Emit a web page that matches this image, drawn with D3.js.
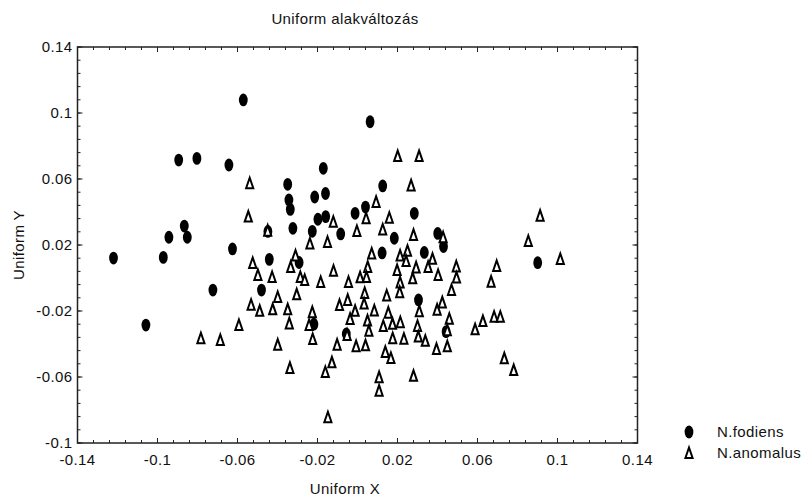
<!DOCTYPE html>
<html>
<head>
<meta charset="utf-8">
<script src="https://cdn.jsdelivr.net/npm/d3@7"></script>
<style>
	body { margin: 0; background: white; }
	text { font-family: Arial, "Liberation Sans", sans-serif; fill: #111; letter-spacing: 0.4px; }
</style>
</head>
<body>
<div id="plot"></div>
<script>
// N.fodiens (tele ellipszisek)
var fodiensX = [-0.122, -0.1058, -0.0971, -0.0943, -0.0851, -0.0866, -0.0894, -0.0803, -0.0643, -0.0571,
	-0.0625, -0.0723, -0.048, -0.0441, -0.0448, -0.0349, -0.0343, -0.0336, -0.0323, -0.0292,
	-0.0218, -0.0171, -0.0214, -0.016, -0.0198, -0.0159, -0.0226, -0.0084, -0.0056, -0.0012,
	0.004, 0.0063, 0.0126, 0.0284, 0.0184, 0.0123, 0.0334, 0.0401, 0.043, 0.0901,
	0.0305, 0.0443];
var fodiensY = [0.0121, -0.0285, 0.0125, 0.0247, 0.0247, 0.0315, 0.0715, 0.0725, 0.0685, 0.1079,
	0.0176, -0.0073, -0.0073, 0.0113, 0.0282, 0.0568, 0.0473, 0.0416, 0.0301, 0.0094,
	-0.028, 0.0665, 0.0491, 0.0512, 0.0356, 0.0372, 0.0283, 0.0267, -0.0339, 0.0392,
	0.043, 0.0947, 0.0558, 0.0392, 0.0241, 0.0152, 0.0155, 0.027, 0.0191, 0.0093,
	-0.0133, -0.0325];

// N.anomalus (üres háromszögek)
var anomalusX = [-0.0539, -0.0546, -0.0449, -0.0238, -0.015, -0.0121, -0.0003, 0.0043, 0.0201, 0.0308,
	0.0268, 0.0093, 0.0159, 0.0126, 0.028, 0.0428, 0.0913, 0.0854, 0.0071, 0.0213,
	0.025, 0.0375, 0.0051, 0.0198, 0.0243, 0.0293, 0.0353, 0.0403, 0.0494, 0.0495,
	0.0696, 0.1014, 0.0013, 0.0045, 0.0276, 0.0213, 0.0668, 0.047, 0.0036, 0.0146,
	0.0211, 0.0033, 0.0084, 0.0154, 0.0309, 0.0398, 0.0424, 0.005, 0.0129, 0.0175,
	0.0214, 0.03, 0.0459, 0.0449, 0.0057, 0.0176, 0.0232, 0.0304, 0.0339, 0.0395,
	0.0449, 0.004, 0.0139, 0.0167, 0.0588, 0.0627, 0.0683, 0.0714, 0.0734, 0.0781,
	0.0108, 0.0108, 0.028, -0.031, -0.0334, -0.0524, -0.0498, -0.0427, -0.0286, -0.0264,
	-0.0184, -0.012, -0.0045, -0.0399, -0.0304, -0.0532, -0.0489, -0.0424, -0.0349, -0.0226,
	-0.009, -0.0049, -0.0012, -0.0037, -0.0593, -0.0341, -0.0242, -0.0224, -0.0783, -0.0686,
	-0.0399, -0.0102, -0.0052, -0.0007, -0.0128, -0.0161, -0.0338, -0.0148];
var anomalusY = [0.0574, 0.0372, 0.0287, 0.0209, 0.0218, 0.0341, 0.0285, 0.0362, 0.0739, 0.0739,
	0.0561, 0.0461, 0.0365, 0.0294, 0.0261, 0.0247, 0.0378, 0.0224, 0.0148, 0.0136,
	0.0165, 0.0116, 0.0067, 0.0048, 0.0103, 0.0064, 0.0067, 0.0018, 0.007, 0.0003,
	0.0073, 0.0115, 0.0004, 0.0006, -0.0002, -0.0027, -0.0022, -0.0073, -0.0091, -0.0106,
	-0.0086, -0.0155, -0.0197, -0.021, -0.0201, -0.0192, -0.0148, -0.0258, -0.0291, -0.0278,
	-0.0268, -0.0291, -0.0247, -0.0317, -0.032, -0.0365, -0.0368, -0.0355, -0.0381, -0.043,
	-0.0414, -0.0408, -0.0448, -0.0485, -0.0311, -0.0261, -0.0235, -0.0235, -0.0487, -0.0558,
	-0.0601, -0.0683, -0.0593, 0.0136, 0.0067, 0.0091, 0.0018, 0.0006, 0.0006, -0.0012,
	-0.0024, 0.0044, -0.0024, -0.0115, -0.0099, -0.0162, -0.0199, -0.019, -0.019, -0.0207,
	-0.0164, -0.0133, -0.0199, -0.0248, -0.0285, -0.0275, -0.0285, -0.037, -0.0365, -0.0376,
	-0.0404, -0.0404, -0.0345, -0.0413, -0.0511, -0.057, -0.0545, -0.0844];

var xTicks = ['-0.14', '-0.1', '-0.06', '-0.02', '0.02', '0.06', '0.1', '0.14'];
var yTicks = ['-0.1', '-0.06', '-0.02', '0.02', '0.06', '0.1', '0.14'];
var sorozatok = ['N.fodiens', 'N.anomalus'];

var Amplada = 812, Alçada = 497;
var marge = {dalt: 47, dreta: 174.5, baix: 54, esquerra: 77.5};
var betu = 15;

var svg = d3.select('#plot').append('svg')
	.attr('width', Amplada)
	.attr('height', Alçada);

var x = d3.scaleLinear()
	.domain([+xTicks[0], +xTicks[xTicks.length-1]])
	.range([marge.esquerra, Amplada - marge.dreta]);
var y = d3.scaleLinear()
	.domain([+yTicks[0], +yTicks[yTicks.length-1]])
	.range([Alçada - marge.baix, marge.dalt]);

// apró osztások: 0.008 lépés
function menor(esc) {
	var d = esc.domain();
	var n = Math.round((d[1] - d[0]) / 0.008);
	return d3.range(n + 1).map(i => d[0] + i * 0.008);
}

var tengely = svg.append('g');

// keret
tengely.append('rect')
	.attr('x', x.range()[0])
	.attr('y', y.range()[1])
	.attr('width', x.range()[1] - x.range()[0])
	.attr('height', y.range()[0] - y.range()[1])
	.attr('fill', 'none')
	.attr('stroke', '#222')
	.attr('stroke-width', 1.5);

var bal = x.range()[0], jobb = x.range()[1], fent = y.range()[1], lent = y.range()[0];

// x osztások (lent és fent, befelé)
[[lent, -1], [fent, 1]].forEach(function(p) {
	tengely.append('g').selectAll('line.mx')
		.data(menor(x))
		.enter().append('line')
			.attr('x1', d => x(d)).attr('x2', d => x(d))
			.attr('y1', p[0]).attr('y2', p[0] + p[1] * 3)
			.attr('stroke', '#222');
	tengely.append('g').selectAll('line.Mx')
		.data(xTicks)
		.enter().append('line')
			.attr('x1', d => x(+d)).attr('x2', d => x(+d))
			.attr('y1', p[0]).attr('y2', p[0] + p[1] * 5)
			.attr('stroke', '#222');
});
// y osztások (bal és jobb)
[[bal, 1], [jobb, -1]].forEach(function(p) {
	tengely.append('g').selectAll('line.my')
		.data(menor(y))
		.enter().append('line')
			.attr('y1', d => y(d)).attr('y2', d => y(d))
			.attr('x1', p[0]).attr('x2', p[0] + p[1] * 3)
			.attr('stroke', '#222');
	tengely.append('g').selectAll('line.My')
		.data(yTicks)
		.enter().append('line')
			.attr('y1', d => y(+d)).attr('y2', d => y(+d))
			.attr('x1', p[0]).attr('x2', p[0] + p[1] * 5)
			.attr('stroke', '#222');
});

tengely.append('g').selectAll('text')
	.data(xTicks)
	.enter().append('text')
		.attr('x', d => x(+d))
		.attr('y', lent + 22)
		.attr('text-anchor', 'middle')
		.attr('font-size', betu)
		.text(d => d);

tengely.append('g').selectAll('text')
	.data(yTicks)
	.enter().append('text')
		.attr('x', bal - 5)
		.attr('y', d => y(+d) + 5)
		.attr('text-anchor', 'end')
		.attr('font-size', betu)
		.text(d => d);

svg.append('text')
	.attr('x', 345).attr('y', 24)
	.attr('text-anchor', 'middle')
	.attr('font-size', betu)
	.text('Uniform alakváltozás');
svg.append('text')
	.attr('x', 345).attr('y', 494)
	.attr('text-anchor', 'middle')
	.attr('font-size', betu)
	.text('Uniform X');
svg.append('text')
	.attr('transform', 'translate(24,' + ((fent + lent) / 2) + ') rotate(-90)')
	.attr('text-anchor', 'middle')
	.attr('font-size', betu)
	.text('Uniform Y');

// jelölők
var haromszog = 'M0,-5.5L3.6,5L-3.6,5Z';

var pontok = svg.append('g');
pontok.selectAll('ellipse')
	.data(d3.zip(fodiensX, fodiensY))
	.enter().append('ellipse')
		.attr('cx', d => x(d[0]))
		.attr('cy', d => y(d[1]))
		.attr('rx', 4.4)
		.attr('ry', 6.4)
		.attr('fill', 'black');
pontok.selectAll('path')
	.data(d3.zip(anomalusX, anomalusY))
	.enter().append('path')
		.attr('d', haromszog)
		.attr('transform', d => `translate(${x(d[0])},${y(d[1])})`)
		.attr('fill', 'white')
		.attr('stroke', 'black')
		.attr('stroke-width', 2)
		.attr('stroke-linejoin', 'miter');

// jelmagyarázat
var jm = svg.append('g').attr('transform', 'translate(689,432)');
jm.append('ellipse').attr('cx', 0).attr('cy', 0).attr('rx', 4.4).attr('ry', 6.4).attr('fill', 'black');
jm.append('path').attr('d', haromszog).attr('transform', 'translate(0,21)')
	.attr('fill', 'white').attr('stroke', 'black').attr('stroke-width', 2);
jm.selectAll('text')
	.data(sorozatok)
	.enter().append('text')
		.attr('x', 28)
		.attr('y', (d, i) => i * 21 + 5)
		.attr('font-size', betu)
		.text(d => d);
</script>
</body>
</html>
